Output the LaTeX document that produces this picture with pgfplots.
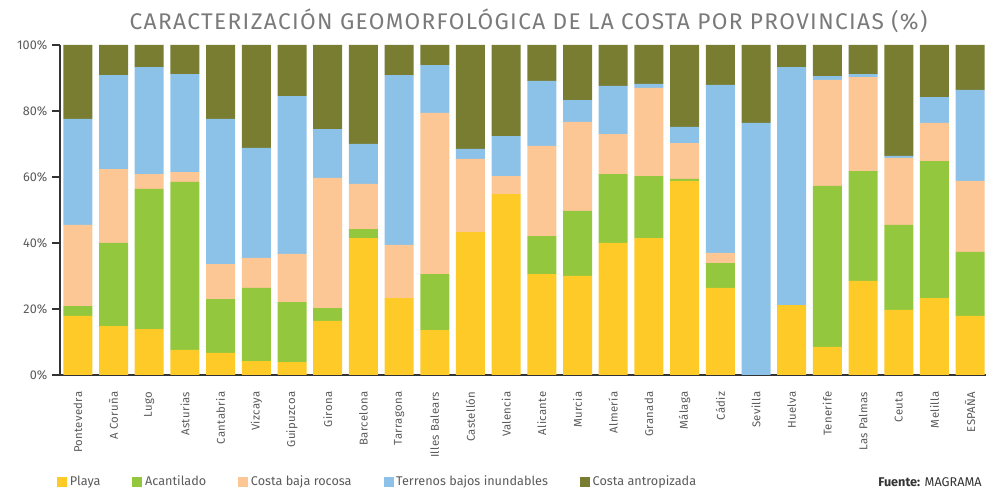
\documentclass[border=0pt]{standalone}
\usepackage{pgfplots}
\usepackage{pgfplotstable}
\pgfplotsset{compat=1.18}
\usepackage{fontspec}
\setmainfont{Fira Sans}
\newfontfamily\labelfont[LetterSpace=3]{Fira Sans}
\newfontfamily\titlefont[LetterSpace=6]{Fira Sans}
\definecolor{cPlaya}{HTML}{FDCA28}
\definecolor{cAcant}{HTML}{93C83E}
\definecolor{cCosta}{HTML}{FCC695}
\definecolor{cTerr}{HTML}{8DC2E8}
\definecolor{cAntro}{HTML}{787D31}
\definecolor{cGrayT}{HTML}{7A7A7A}
\definecolor{cGrayL}{HTML}{5A5A5A}

\pgfplotstableread{
x P A C T X
0 17.9 3.0 24.6 32.1 22.4
1 14.8 25.2 22.4 28.5 9.1
2 13.9 42.5 4.5 32.4 6.7
3 7.6 50.9 3.0 29.7 8.8
4 6.7 16.3 10.6 44.0 22.4
5 4.2 22.2 9.1 33.3 31.2
6 3.9 18.2 14.6 47.8 15.5
7 16.4 3.9 39.4 14.8 25.5
8 41.5 2.7 13.7 12.1 30.0
9 23.3 0 16.1 51.5 9.1
10 13.6 17.0 48.8 14.5 6.1
11 43.3 0 22.2 3.0 31.5
12 54.8 0 5.5 12.1 27.6
13 30.6 11.5 27.3 19.7 10.9
14 30.0 19.7 27.0 6.6 16.7
15 40.0 20.9 12.1 14.6 12.4
16 41.5 18.8 26.7 1.2 11.8
17 58.8 0.6 10.9 4.9 24.8
18 26.4 7.5 3.1 50.9 12.1
19 0 0 0 76.4 23.6
20 21.2 0 0 72.1 6.7
21 8.5 48.8 32.1 1.2 9.4
22 28.5 33.3 28.5 0.9 8.8
23 19.7 25.8 20.3 0.6 33.6
24 23.3 41.5 11.6 7.8 15.8
25 17.9 19.4 21.5 27.6 13.6
}\datatable

\begin{document}
\begin{tikzpicture}
\path[use as bounding box] (0pt,0pt) rectangle (739.5pt,369pt);
\begin{axis}[
  at={(45pt,87.75pt)}, anchor=south west,
  scale only axis, width=696pt, height=247.5pt,
  ybar stacked, bar width=21.75pt,
  xmin=-0.5, xmax=25.5, ymin=0, ymax=100,
  axis x line*=bottom, axis y line*=left,
  axis line style={color=black!80, line width=1pt, -},
  xtick={0,...,25},
  xticklabels={Pontevedra,A Coruña,Lugo,Asturias,Cantabria,Vizcaya,Guipuzcoa,Girona,Barcelona,Tarragona,Illes Balears,Castellón,Valencia,Alicante,Murcia,Almería,Granada,Málaga,Cádiz,Sevilla,Huelva,Tenerife,Las Palmas,Ceuta,Melilla,ESPAÑA},
  minor xtick={-0.5,0.5,...,25.5},
  xtick style={draw=none},
  minor tick style={color=black!80, line width=1pt},
  minor tick length=4pt,
  xticklabel style={rotate=90, anchor=east, font=\labelfont\fontsize{8.5}{10}\selectfont, text=cGrayL, xshift=-3pt},
  ytick={0,20,40,60,80,100},
  yticklabels={0\%,20\%,40\%,60\%,80\%,100\%},
  ytick style={color=black!80, line width=1pt},
  major tick length=6pt,
  tick align=outside,
  yticklabel style={font=\fontsize{9.5}{10}\selectfont, text=cGrayL},
  legend columns=-1,
  legend style={at={(-0.0032,-0.324)}, anchor=west, draw=none, fill=none, inner sep=0pt,
    font=\fontsize{9.5}{10}\selectfont, text=cGrayL,
    /tikz/every even column/.append style={column sep=22pt}},
  legend cell align=left,
  legend image code/.code={\fill[#1,draw=none] (0pt,-3.75pt) rectangle (7.5pt,3.75pt);},
  clip=false,
]
\addplot[fill=cPlaya, draw=none] table[x=x, y=P] {\datatable};
\addplot[fill=cAcant, draw=none] table[x=x, y=A] {\datatable};
\addplot[fill=cCosta, draw=none] table[x=x, y=C] {\datatable};
\addplot[fill=cTerr, draw=none] table[x=x, y=T] {\datatable};
\addplot[fill=cAntro, draw=none] table[x=x, y=X] {\datatable};
\legend{Playa,Acantilado,Costa baja rocosa,Terrenos bajos inundables,Costa antropizada}
\end{axis}
\node[anchor=center, text=cGrayT, font=\titlefont\fontsize{17}{20}\selectfont] at (396.4pt,353.25pt) {CARACTERIZACIÓN GEOMORFOLÓGICA DE LA COSTA POR PROVINCIAS (\%)};
\node[anchor=west, inner sep=0pt, text=black!80, font=\fontsize{9.5}{10}\selectfont] at (658.5pt,7.5pt) {\textbf{Fuente:} MAGRAMA};
\end{tikzpicture}
\end{document}
